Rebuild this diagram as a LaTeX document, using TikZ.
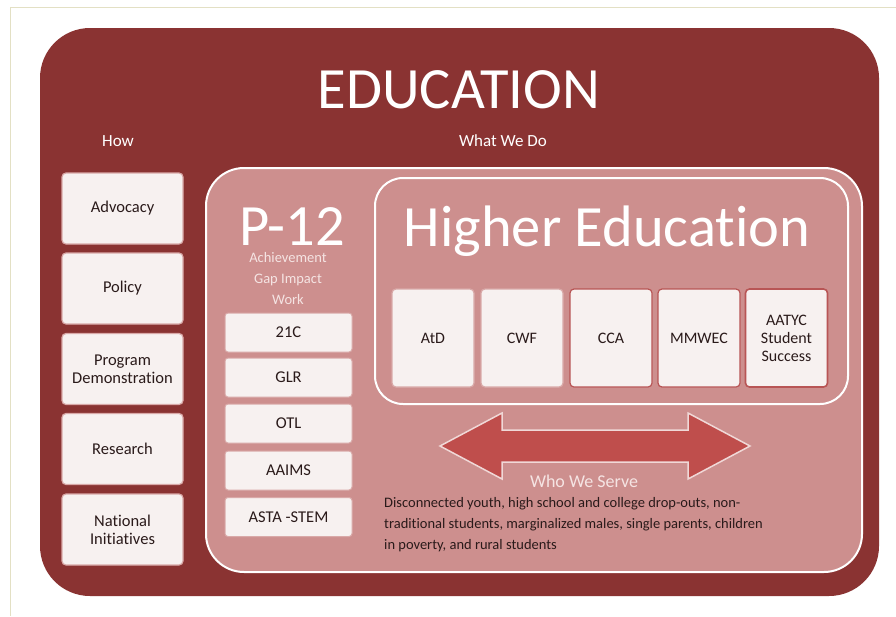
\documentclass[tikz,border=0pt]{standalone}
\usepackage{fontspec}
\setmainfont[Ligatures=NoCommon]{Carlito}
\definecolor{darkred}{HTML}{8A3332}
\definecolor{pinkfill}{HTML}{CD8F8E}
\definecolor{boxfill}{HTML}{F7F1F0}
\definecolor{boxedge}{HTML}{D9A9A8}
\definecolor{redge}{HTML}{B85555}
\definecolor{arrowfill}{HTML}{BF4E4C}
\definecolor{arrowedge}{HTML}{F0D8D7}
\definecolor{framecol}{HTML}{E3E0C4}
\definecolor{softtext}{HTML}{F5E4E3}
\definecolor{bodytext}{HTML}{2A1A1A}
\begin{document}
\begin{tikzpicture}[x=1pt,y=-1pt,
  howbox/.style={draw=boxedge,line width=1.2pt,fill=boxfill,rounded corners=4pt,
    minimum width=121pt,minimum height=71pt,align=center,font=\fontsize{16.5}{18}\selectfont,text=bodytext},
  pbox/.style={draw=boxedge,line width=1pt,fill=boxfill,rounded corners=3pt,
    minimum width=127pt,minimum height=39pt,align=center,font=\fontsize{16.5}{18}\selectfont,text=bodytext},
  hebox/.style={draw=boxedge,line width=1.2pt,fill=boxfill,rounded corners=4pt,
    minimum width=82pt,minimum height=98pt,align=center,font=\fontsize{16}{18}\selectfont,text=bodytext},
  heboxr/.style={hebox,draw=redge},
  title/.style={text=white,font=\fontsize{58.5}{60}\selectfont},
  small/.style={text=white,font=\fontsize{17}{19}\selectfont}
]
\useasboundingbox (0,0) rectangle (896,616);
\fill[white] (0,0) rectangle (896,616);
\draw[framecol,line width=1pt] (10,616) -- (10,7) -- (896,7);

% main frame
\fill[darkred,rounded corners=50pt] (40,28) rectangle (879,596);
\node[title] (edu) at (459,90) {EDUCATION};
\node[small] (how) at (118,141) {How};
\node[small] (what) at (503,141) {What We Do};

% left column
\node[howbox] (adv) at (122.5,208.5) {Advocacy};
\node[howbox] (pol) at (122.5,288.5) {Policy};
\node[howbox] (prog) at (122.5,369) {Program\\Demonstration};
\node[howbox] (res) at (122.5,449) {Research};
\node[howbox] (nat) at (122.5,529.5) {National\\Initiatives};

% what we do panel
\draw[white,line width=2pt,fill=pinkfill,rounded corners=38pt] (206,168) rectangle (862,572);
\draw[white,line width=2pt,fill=pinkfill,rounded corners=28pt] (375,178) rectangle (848,404);

% P-12
\node[title,anchor=base,inner sep=0pt] (p12) at (292,245) {P-12};
\node[anchor=north,inner sep=0pt,text=softtext,font=\fontsize{14.5}{21}\selectfont,align=center] (agiw) at (288,252) {Achievement\\Gap Impact\\Work};
\node[pbox] (c21) at (288.5,332.5) {21C};
\node[pbox] (glr) at (288.5,377.5) {GLR};
\node[pbox] (otl) at (288.5,423.5) {OTL};
\node[pbox] (aaims) at (288.5,470.5) {AAIMS};
\node[pbox] (asta) at (288.5,517) {ASTA -STEM};

% Higher education
\node[title] (he) at (607,231) {Higher Education};
\node[hebox] (atd) at (433,338) {AtD};
\node[hebox] (cwf) at (522,338) {CWF};
\node[heboxr] (cca) at (611,338) {CCA};
\node[heboxr] (mmw) at (699,338) {MMWEC};
\node[heboxr,line width=1.6pt] (aat) at (786.5,338) {AATYC\\Student\\Success};

% double arrow
\coordinate (al) at (440,446);
\coordinate (ar) at (750,446);
\filldraw[fill=arrowfill,draw=arrowedge,line width=1.5pt,line join=miter]
  (al) -- (502,413) -- (502,430) -- (688,430) -- (688,413) -- (ar)
  -- (688,479) -- (688,462) -- (502,462) -- (502,479) -- cycle;
\node[small,text=softtext,font=\fontsize{18}{20}\selectfont] (who) at (584,481) {Who We Serve};
\node[anchor=north west,text=bodytext,font=\fontsize{14.5}{21}\selectfont,align=left,inner sep=0pt] (desc) at (384,497)
  {Disconnected youth, high school and college drop-outs, non-\\traditional students, marginalized males, single parents, children\\in poverty, and rural students};
\end{tikzpicture}
\end{document}
